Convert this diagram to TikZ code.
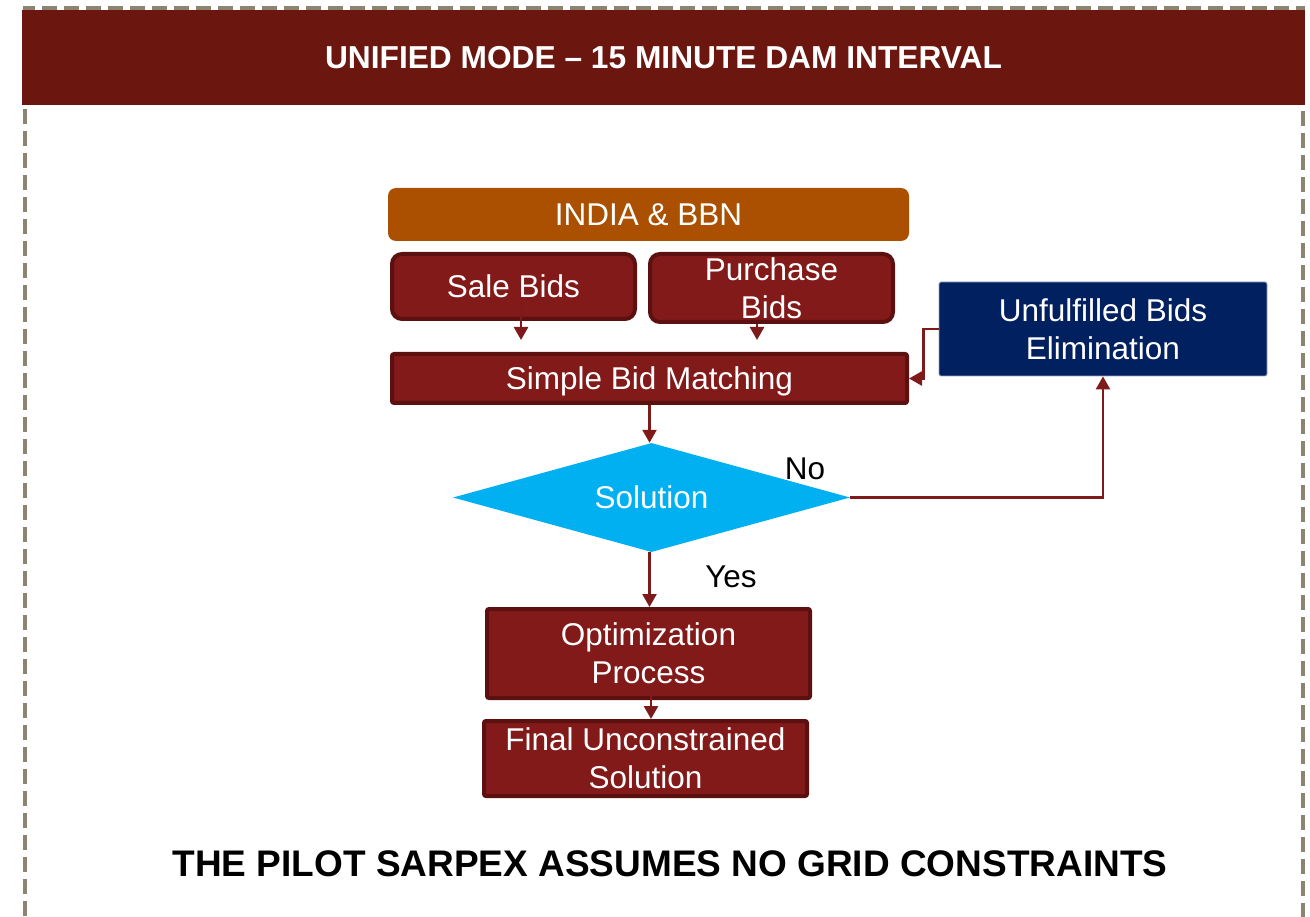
\documentclass[tikz,border=0pt]{standalone}
\usepackage{fontspec}
\setmainfont{Liberation Sans}
\usetikzlibrary{arrows.meta,shapes.geometric}
\definecolor{hdr}{HTML}{6B1710}
\definecolor{boxfill}{HTML}{821A1A}
\definecolor{boxline}{HTML}{5C1010}
\definecolor{india}{HTML}{AA5000}
\definecolor{navy}{HTML}{002060}
\definecolor{cyanfill}{HTML}{00B0F0}
\definecolor{arrowc}{HTML}{7E1A1A}
\definecolor{dashc}{HTML}{8C8470}
\begin{document}
\begin{tikzpicture}[x=1pt,y=-1pt,
  bodytext/.style={font=\fontsize{31.5}{38}\selectfont},
  redbox/.style={draw=boxline, line width=4pt, fill=boxfill, text=white, bodytext, align=center, inner sep=0pt},
  arr/.style={draw=arrowc, line width=2.5pt, -{Triangle[width=14pt,length=13pt]}},
]
\useasboundingbox (0,0) rectangle (1310,917);
\draw[dashc, line width=4pt, dash pattern=on 15pt off 7pt] (1303,940) -- (1303,8.5) -- (25,8.5) -- (25,940);
\node[fill=hdr, minimum width=1283pt, minimum height=95pt, inner sep=0pt, text=white,
      font=\bfseries\fontsize{31.7}{38}\selectfont] (header) at (663.5,57.5) {UNIFIED MODE – 15 MINUTE DAM INTERVAL};
\node[fill=india, rounded corners=8pt, minimum width=521pt, minimum height=53pt, inner sep=0pt, text=white, bodytext] (india) at (648.5,214.5) {INDIA \& BBN};
\node[redbox, rounded corners=10pt, minimum width=243pt, minimum height=65pt] (sale) at (513.5,286.5) {Sale Bids};
\node[redbox, rounded corners=10pt, minimum width=243pt, minimum height=68pt] (purch) at (771.5,288) {Purchase\\Bids};
\node[redbox, rounded corners=2pt, minimum width=515pt, minimum height=49pt, text depth=0pt] (sbm) at (649.5,378.5) {Simple Bid Matching};
\node[fill=navy, draw=navy!40!white, line width=0.8pt, rounded corners=2pt, minimum width=328pt, minimum height=94pt, inner sep=0pt, text=white, bodytext, align=center] (ube) at (1103,329) {Unfulfilled Bids\\Elimination};
\node[diamond, aspect=3.64, fill=cyanfill, minimum width=397pt, minimum height=109pt, inner sep=0pt, text=white, bodytext] (sol) at (651.5,497.5) {Solution};
\node[redbox, rounded corners=2pt, minimum width=323pt, minimum height=89pt] (opt) at (648.5,653.5) {Optimization\\Process};
\node[redbox, rounded corners=2pt, minimum width=323pt, minimum height=75pt] (final) at (645.5,758.5) {Final Unconstrained\\Solution};
\node[bodytext] (no) at (805,469) {No};
\node[bodytext] (yes) at (731,577) {Yes};
\node[font=\bfseries\fontsize{37}{44}\selectfont] (bottom) at (670,864) {THE PILOT SARPEX ASSUMES NO GRID CONSTRAINTS};
\draw[arr, shorten >=12pt] ([xshift=7.5pt,yshift=19pt]sale.south) -- ([xshift=7.5pt]sale.south |- sbm.north);
\draw[arr, shorten >=12pt] ([xshift=-14.5pt]purch.south) -- ([xshift=-14.5pt]purch.south |- sbm.north);
\draw[arr] (sbm.south) -- (sbm.south |- sol.north);
\draw[arr] (ube.west) -- ++(-15,0) |- (sbm.east);
\draw[arr] (sol.east) -| (ube.south);
\draw[arr] ([xshift=-2pt]sol.south) -- ([xshift=-2pt]sol.south |- opt.north);
\draw[arr] ([xshift=2.5pt,yshift=10pt]opt.south) -- ([xshift=2.5pt]opt.south |- final.north);
\end{tikzpicture}
\end{document}
